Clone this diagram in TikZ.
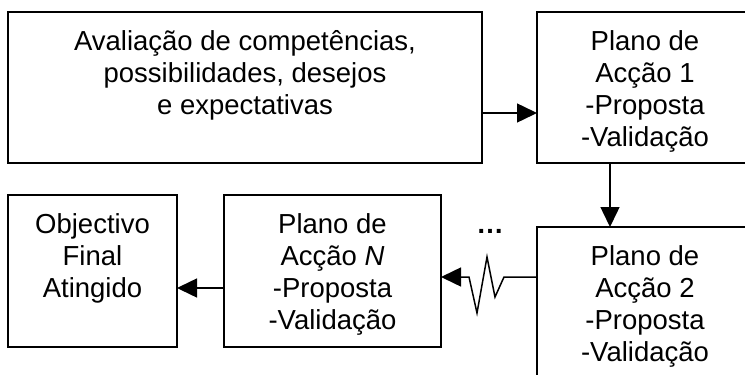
\documentclass[tikz,border=0pt]{standalone}
\usepackage{fontspec}
\setmainfont{Liberation Sans}
\usetikzlibrary{positioning,arrows.meta}
\tikzset{node distance=55pt, auto,
  caixa/.style={draw, line width=1.8pt, inner sep=0pt, outer sep=0pt},
  seta/.style={line width=1.5pt, -{Triangle[length=20pt,width=19pt]}}}
\newcommand{\caixatexto}[3]{\begin{minipage}[c][#2][t]{#1}\centering\rule{0pt}{38pt}#3\end{minipage}}

\begin{document}
\begin{tikzpicture}[x=1pt, y=1pt, font=\fontsize{27.5}{32}\selectfont]
                \useasboundingbox (0,0) rectangle (745,-375);
                \clip (0,0) rectangle (745,-375);
                \node[caixa, anchor=north west] (aval) at (8,-12)
                  {\caixatexto{474pt}{151pt}{Avaliação de competências,\\possibilidades, desejos\\e expectativas}};
                \node[caixa, right=55pt of aval] (plano1)
                  {\caixatexto{216pt}{151pt}{Plano de\\Acção 1\\-Proposta\\-Validação}};
                \node[caixa, below=64pt of plano1] (plano2)
                  {\caixatexto{216pt}{160pt}{Plano de\\Acção 2\\-Proposta\\-Validação}};
                \node[caixa, anchor=north west] (objectivo) at (8,-195)
                  {\caixatexto{169pt}{152pt}{Objectivo\\Final\\Atingido}};
                \node[caixa, right=47pt of objectivo] (planoN)
                  {\caixatexto{217pt}{152pt}{Plano de\\Acção \textit{N}\\-Proposta\\-Validação}};
                \node[anchor=base] (reticencias) at (490,-233) {\textbf{…}};
                \draw[seta] ([yshift=-25.5pt]aval.east) -- ([yshift=-25.5pt]plano1.west);
                \draw[seta] ([xshift=-35pt]plano1.south) -- ([xshift=-35pt]plano2.north);
                \draw[seta] ([yshift=30pt]plano2.west) -- ++(-33,0) -- ++(-9,-20) -- ++(-8,40)
                  -- ++(-10,-56) -- ++(-8,36) -- ([yshift=-6pt]planoN.east);
                \draw[seta] ([yshift=-17pt]planoN.west) -- ([yshift=-17pt]objectivo.east);
              \end{tikzpicture}
\end{document}
